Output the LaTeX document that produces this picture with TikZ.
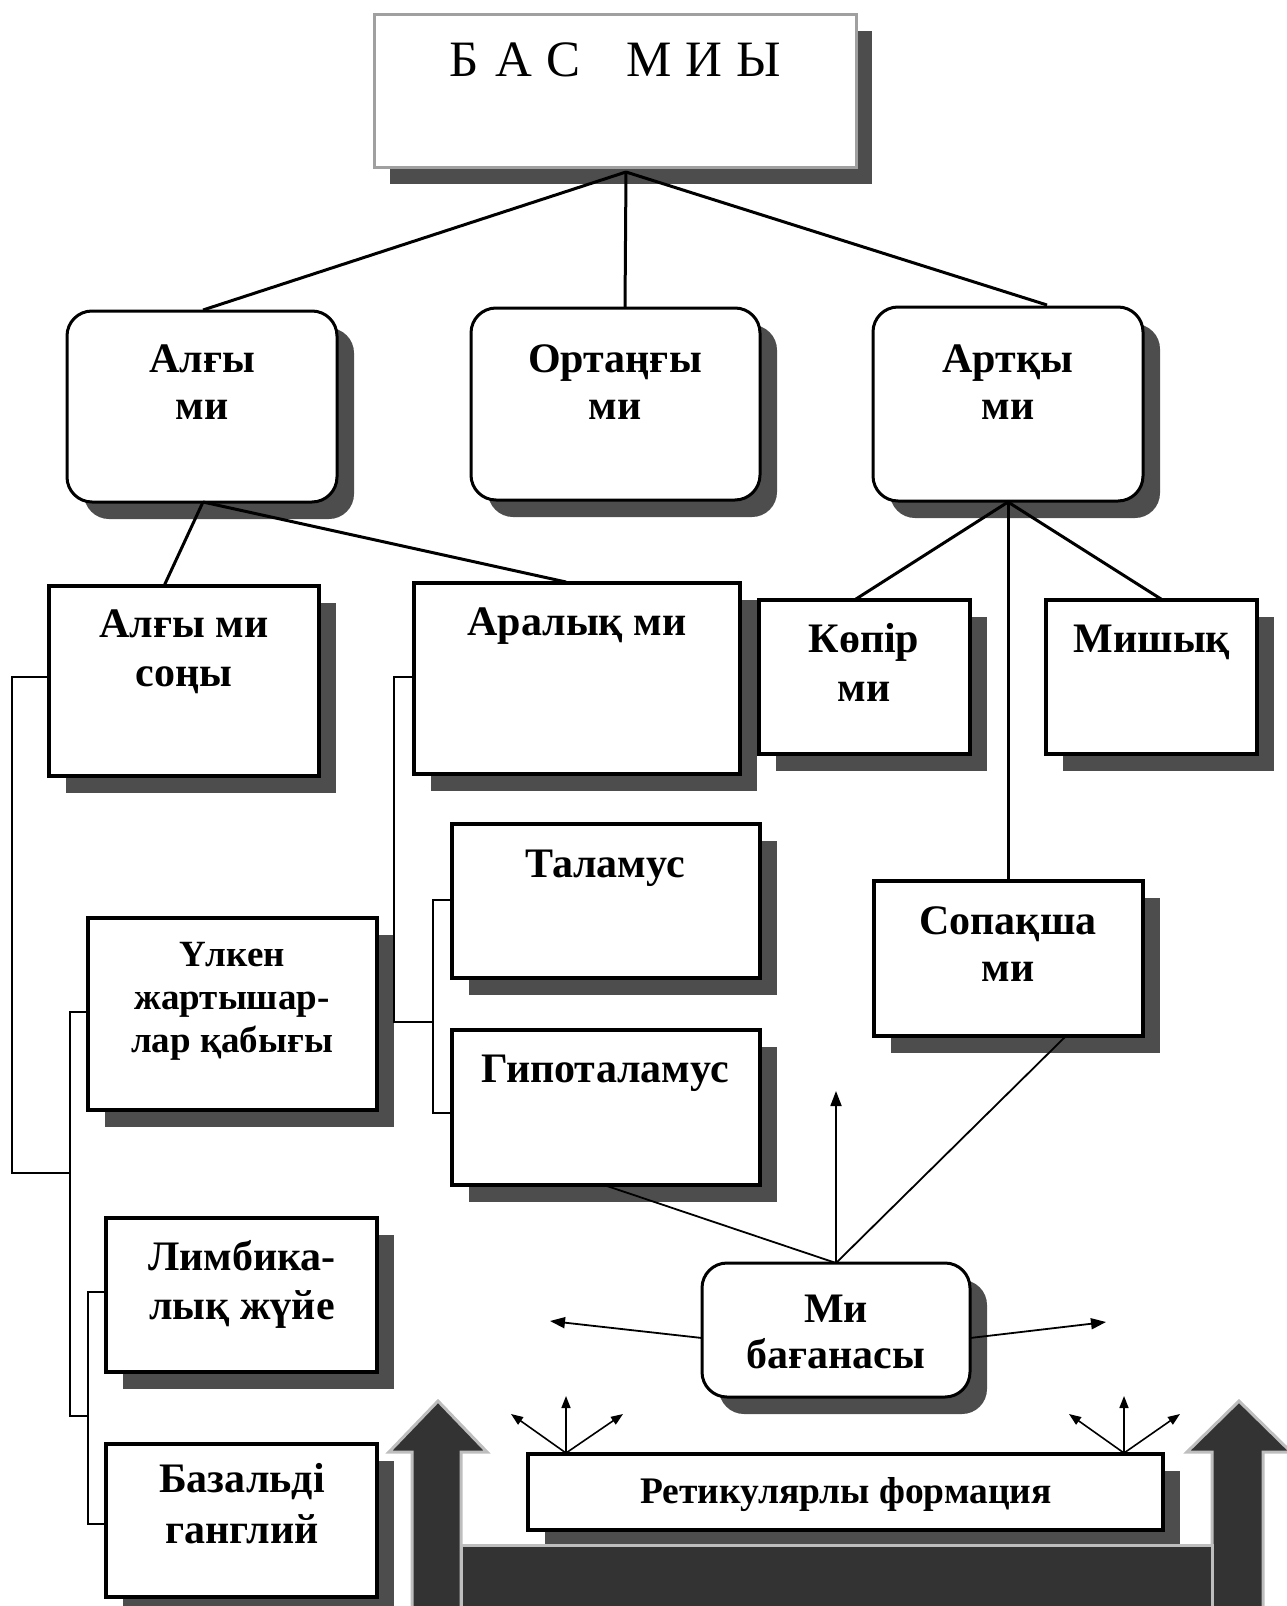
\documentclass[tikz,border=0pt]{standalone}
\usepackage{fontspec}
\setmainfont{Liberation Serif}
\usetikzlibrary{shadows,fit,arrows.meta}
\definecolor{shgray}{HTML}{4D4D4D}
\definecolor{topgray}{HTML}{A0A0A0}
\definecolor{arrdark}{HTML}{333333}
\definecolor{arrlight}{HTML}{BEBEBE}
\tikzset{
  sqbox/.style={draw=black, fill=white, inner sep=0pt, line width=3.5pt,
    drop shadow={shadow xshift=17pt, shadow yshift=-17pt, opacity=1, fill=shgray}},
  rndbox/.style={draw=black, fill=white, inner sep=0pt, line width=3pt, rounded corners=25pt,
    drop shadow={shadow xshift=17pt, shadow yshift=-17pt, opacity=1, fill=shgray}},
  topbox/.style={draw=topgray, fill=white, inner sep=0pt, line width=3pt,
    drop shadow={shadow xshift=16pt, shadow yshift=-17pt, opacity=1, fill=shgray}},
  biglbl/.style={inner sep=0pt, anchor=base, font=\bfseries\fontsize{42}{48}\selectfont},
  midlbl/.style={inner sep=0pt, anchor=base, font=\bfseries\fontsize{37}{42}\selectfont},
  retlbl/.style={inner sep=0pt, anchor=base, font=\bfseries\fontsize{37.5}{42}\selectfont},
  conn/.style={line width=3pt},
  thinconn/.style={line width=1.8pt},
  brk/.style={line width=1.4pt},
  arr/.style={line width=1.8pt, -{Triangle[length=15pt,width=11pt]}},
  fan/.style={line width=1.6pt, -{Triangle[length=12pt,width=9pt]}},
  bigarrow/.style={fill=arrdark, draw=arrlight, line width=3pt, line join=miter}
}
\begin{document}
\begin{tikzpicture}[x=1pt,y=-1pt]
\useasboundingbox (0,0) rectangle (1287,1606);

% ---------- boxes ----------
\node[topbox, fit={(374,14) (856,167)}] (bas) {};
\node[rndbox, fit={(67,311) (337,502)}] (alg) {};
\node[rndbox, fit={(471,308) (760,500)}] (ort) {};
\node[rndbox, fit={(873,307) (1143,501)}] (art) {};
\node[sqbox, fit={(49,586) (319,776)}] (algs) {};
\node[sqbox, fit={(414,583) (740,774)}] (aral) {};
\node[sqbox, fit={(759,600) (970,754)}] (kop) {};
\node[sqbox, fit={(1046,600) (1257,754)}] (mish) {};
\node[sqbox, fit={(452,824) (760,978)}] (tal) {};
\node[sqbox, fit={(874,881) (1143,1036)}] (sop) {};
\node[sqbox, fit={(88,918) (377,1110)}] (ulk) {};
\node[sqbox, fit={(452,1030) (760,1185)}] (gip) {};
\node[sqbox, fit={(106,1218) (377,1372)}] (limb) {};
\node[rndbox, fit={(702,1263) (970,1397)}] (miba) {};
\node[sqbox, fit={(106,1444) (377,1597)}] (baz) {};
\node[sqbox, fit={(528,1454) (1163,1530)}] (ret) {};

% ---------- texts ----------
\node[inner sep=0pt, anchor=base, font=\fontsize{51}{60}\selectfont] (bas-t) at (615,76)
  {Б\hspace{17pt}А\hspace{14pt}С\hspace{46pt}М\hspace{14pt}И\hspace{14pt}Ы};
\node[biglbl] (alg-t1) at (202,372) {Алғы};
\node[biglbl] (alg-t2) at (202,419) {ми};
\node[biglbl] (ort-t1) at (615,372) {Ортаңғы};
\node[biglbl] (ort-t2) at (615,419) {ми};
\node[biglbl] (art-t1) at (1008,372) {Артқы};
\node[biglbl] (art-t2) at (1008,419) {ми};
\node[biglbl] (algs-t1) at (184,637) {Алғы ми};
\node[biglbl] (algs-t2) at (184,686) {соңы};
\node[biglbl] (aral-t) at (577,635) {Аралық ми};
\node[biglbl] (kop-t1) at (864,652) {Көпір};
\node[biglbl] (kop-t2) at (864,701) {ми};
\node[biglbl] (mish-t) at (1152,652) {Мишық};
\node[biglbl] (tal-t) at (605,877) {Таламус};
\node[biglbl] (sop-t1) at (1008,934) {Сопақша};
\node[biglbl] (sop-t2) at (1008,981) {ми};
\node[midlbl] (ulk-t1) at (232,966) {Үлкен};
\node[midlbl] (ulk-t2) at (232,1009) {жартышар-};
\node[midlbl] (ulk-t3) at (232,1052) {лар қабығы};
\node[biglbl] (gip-t) at (605,1082) {Гипоталамус};
\node[biglbl] (limb-t1) at (242,1270) {Лимбика-};
\node[biglbl] (limb-t2) at (242,1319) {лық жүйе};
\node[biglbl] (miba-t1) at (836,1322) {Ми};
\node[biglbl] (miba-t2) at (836,1368) {бағанасы};
\node[biglbl] (baz-t1) at (242,1492) {Базальді};
\node[biglbl] (baz-t2) at (242,1543) {ганглий};
\node[retlbl] (ret-t) at (846,1503) {Ретикулярлы формация};

% ---------- connection points ----------
\coordinate (basj) at (626,172);
\coordinate (algtop) at (203,310);
\coordinate (orttop) at (625,308);
\coordinate (arttop) at (1047,305);
\coordinate (algbot) at (203,502);
\coordinate (algstop) at (164,586);
\coordinate (araltop) at (566,582);
\coordinate (artbot) at (1008,502);
\coordinate (koptop) at (856,599);
\coordinate (mishtop) at (1161,599);
\coordinate (soptop) at (1008,881);
\coordinate (gipbot) at (604,1185);
\coordinate (sopbot) at (1067,1035);
\coordinate (mibatop) at (836,1263);
\coordinate (upend) at (836,1091);
\coordinate (mibal) at (702,1338);
\coordinate (mibar) at (970,1338);
\coordinate (leftend) at (550,1321);
\coordinate (rightend) at (1106,1322);
\coordinate (fanl) at (566,1453);
\coordinate (fanr) at (1124,1453);

% ---------- connectors ----------
\draw[conn] (basj) -- (algtop);
\draw[conn] (basj) -- (orttop);
\draw[conn] (basj) -- (arttop);
\draw[conn] (algbot) -- (algstop);
\draw[conn] (algbot) -- (araltop);
\draw[conn] (artbot) -- (koptop);
\draw[conn] (artbot) -- (mishtop);
\draw[conn] (artbot) -- (soptop);
\draw[thinconn] (gipbot) -- (mibatop);
\draw[thinconn] (sopbot) -- (mibatop);
\draw[arr] (mibatop) -- (upend);
\draw[arr] (mibal) -- (leftend);
\draw[arr] (mibar) -- (rightend);

% ---------- brackets ----------
\draw[brk] (algs.west |- 0,677) -- (12,677) -- (12,1173) -- (70,1173);
\draw[brk] (ulk.west |- 0,1012) -- (70,1012) -- (70,1416) -- (88,1416);
\draw[brk] (limb.west |- 0,1292) -- (88,1292) -- (88,1524) -- (baz.west |- 0,1524);
\draw[brk] (aral.west |- 0,677) -- (394,677) -- (394,1022) -- (433,1022);
\draw[brk] (tal.west |- 0,900) -- (433,900) -- (433,1113) -- (gip.west |- 0,1113);

% ---------- fans ----------
\draw[fan] (fanl) -- (511,1414);
\draw[fan] (fanl) -- (566,1396);
\draw[fan] (fanl) -- (623,1414);
\draw[fan] (fanr) -- (1069,1414);
\draw[fan] (fanr) -- (1124,1396);
\draw[fan] (fanr) -- (1180,1414);

% ---------- big arrows ----------
\draw[bigarrow] (412,1615) -- (412,1452) -- (389,1452) -- (438,1401) -- (487,1452)
  -- (461,1452) -- (461,1615) -- cycle;
\draw[bigarrow] (1212,1615) -- (1212,1452) -- (1187,1452) -- (1239,1401) -- (1291,1452)
  -- (1263,1452) -- (1263,1615) -- cycle;
\draw[bigarrow] (461,1545) rectangle (1212,1615);
\end{tikzpicture}
\end{document}
